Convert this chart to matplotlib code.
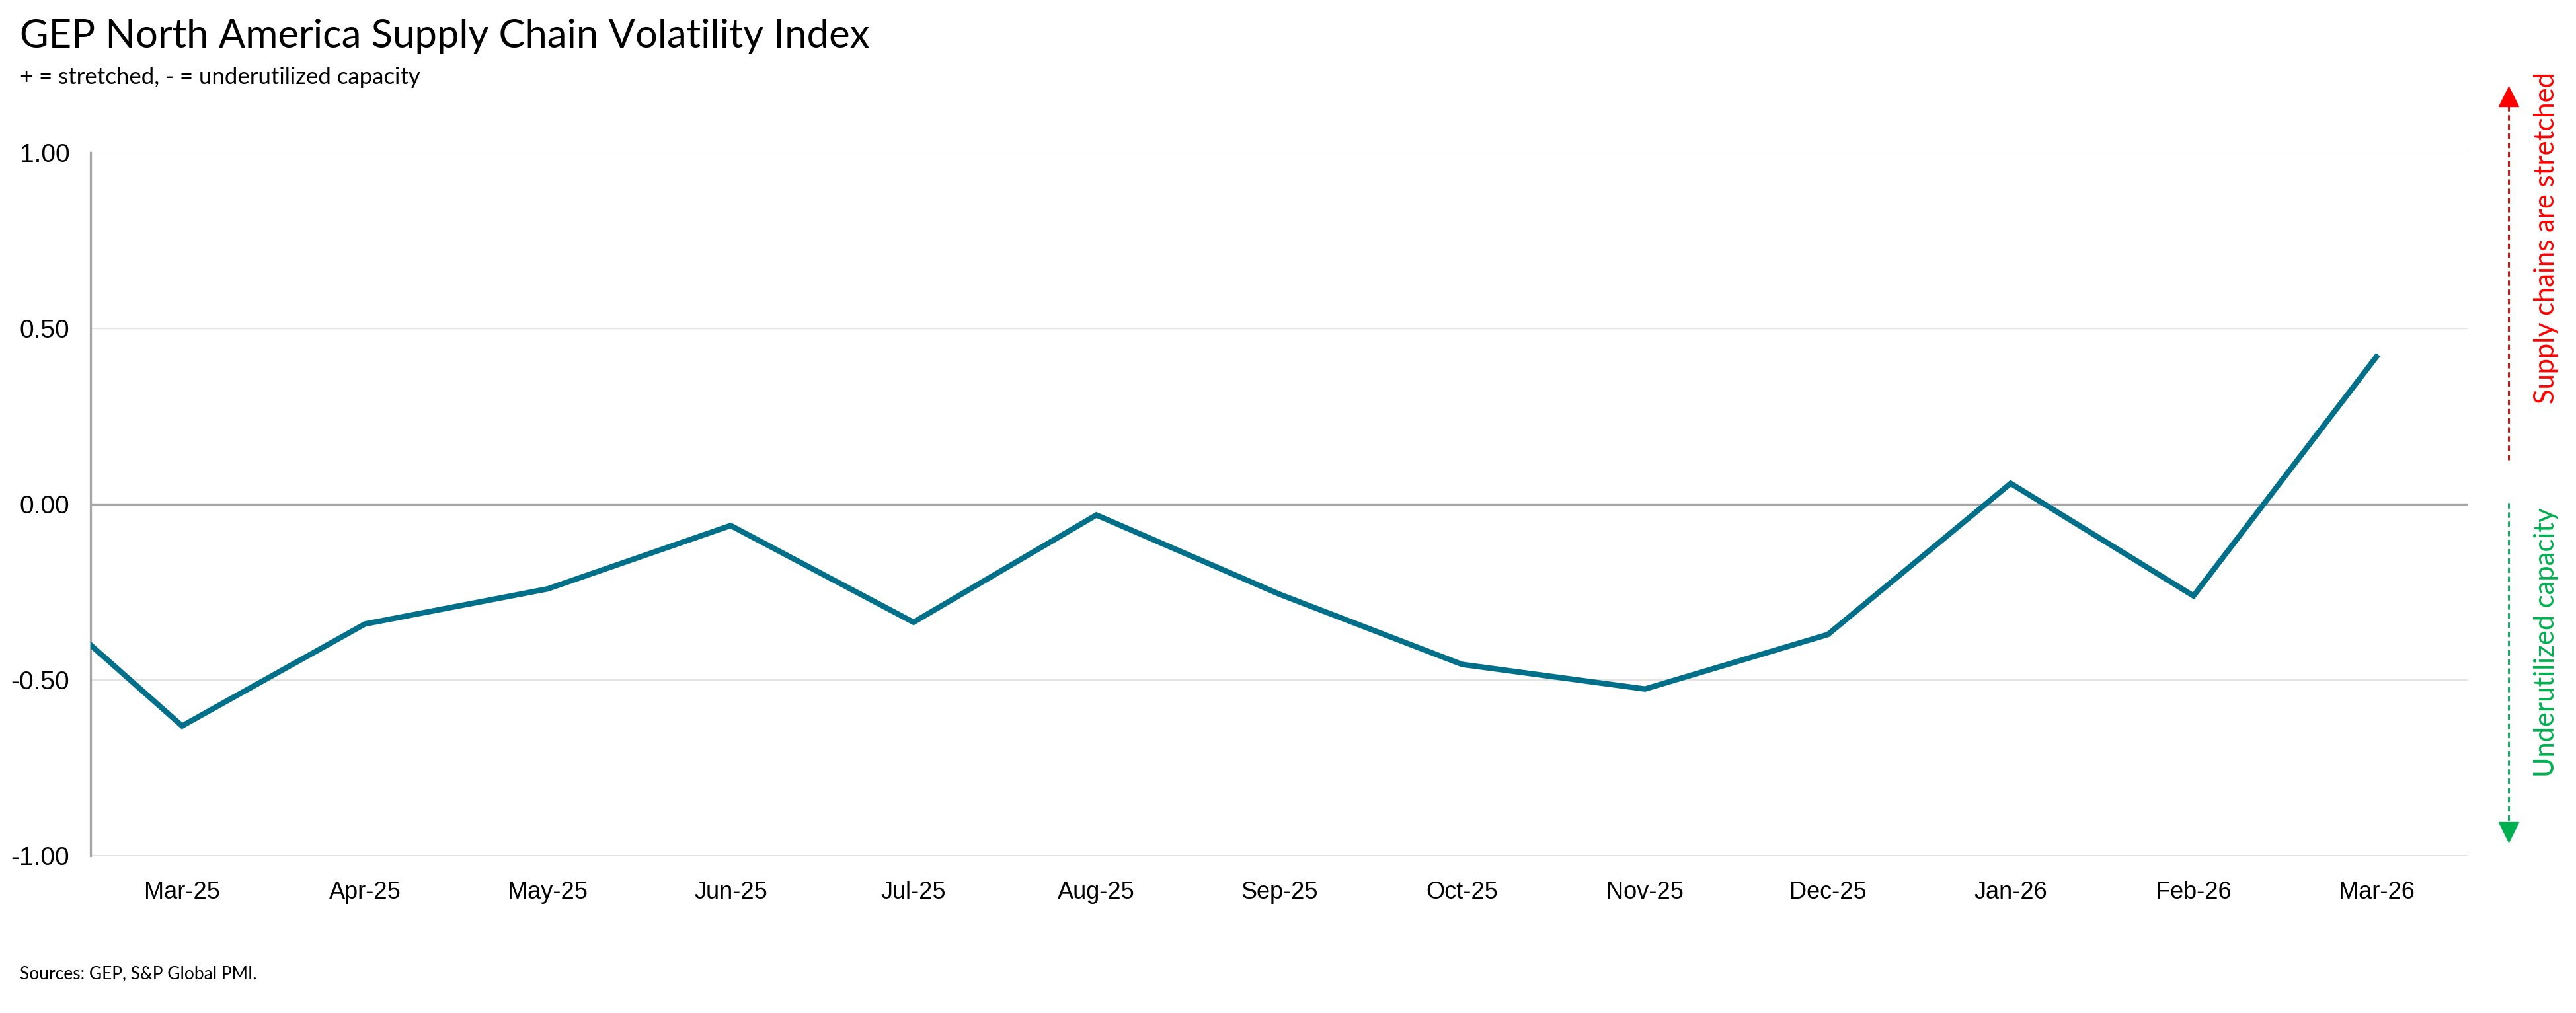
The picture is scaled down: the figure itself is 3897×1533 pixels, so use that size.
import matplotlib
matplotlib.use("Agg")
import matplotlib.pyplot as plt

# GEP North America Supply Chain Volatility Index, monthly
# (first point is Feb-25, sitting just off the left edge of the plot)
months = ["Feb-25", "Mar-25", "Apr-25", "May-25", "Jun-25", "Jul-25", "Aug-25",
          "Sep-25", "Oct-25", "Nov-25", "Dec-25", "Jan-26", "Feb-26", "Mar-26"]
index_values = [-0.17, -0.63, -0.34, -0.24, -0.06, -0.335, -0.03,
                -0.255, -0.455, -0.525, -0.37, 0.06, -0.26, 0.42]
y_ticks = [-1.0, -0.5, 0.0, 0.5, 1.0]

LINE_COLOR = "#006F8A"
RED = "#FF0000"
GREEN = "#00B050"
TEXT_FONT = ["Lato", "DejaVu Sans"]
TICK_FONT = ["Liberation Sans", "DejaVu Sans"]

fig = plt.figure(figsize=(38.97, 15.33), dpi=100)
ax = fig.add_axes([0.0352, 0.155, 0.9228, 0.694])

x = list(range(-1, len(months) - 1))
ax.plot(x, index_values, color=LINE_COLOR, lw=6, solid_joinstyle="miter",
        clip_on=True, zorder=3)

ax.set_xlim(-0.5, len(months) - 1.5)
ax.set_ylim(-1.0, 1.0)
ax.set_yticks(y_ticks)
ax.set_yticklabels([f"{v:.2f}" for v in y_ticks], fontfamily=TICK_FONT, fontsize=28)
ax.set_xticks(x[1:])
ax.set_xticklabels(months[1:], fontfamily=TICK_FONT, fontsize=26)
ax.tick_params(axis="both", length=0)
ax.tick_params(axis="y", pad=23)
ax.tick_params(axis="x", pad=27)

for v in y_ticks:
    if v == 0:
        ax.axhline(v, color="#A6A6A6", lw=2.4, zorder=2)
    else:
        ax.axhline(v, color="#E3E3E3", lw=1.5, zorder=1)

for side in ["top", "right", "bottom"]:
    ax.spines[side].set_visible(False)
ax.spines["left"].set_color("#A6A6A6")
ax.spines["left"].set_linewidth(2.4)

# titles and source
fig.text(0.0077, 0.964, "GEP North America Supply Chain Volatility Index",
         fontfamily=TEXT_FONT, fontsize=43, va="center", ha="left")
fig.text(0.0077, 0.924, "+ = stretched, - = underutilized capacity",
         fontfamily=TEXT_FONT, fontsize=25, va="center", ha="left")
fig.text(0.0077, 0.0385, "Sources: GEP, S&P Global PMI.",
         fontfamily=TEXT_FONT, fontsize=19, va="center", ha="left")

# right-hand direction arrows
ov = fig.add_axes([0, 0, 1, 1])
ov.set_xlim(0, 1)
ov.set_ylim(0, 1)
ov.axis("off")
ax_x = 0.9738
ov.plot([ax_x, ax_x], [0.546, 0.905], ls=(0, (3, 2)), color="#C00000", lw=2)
ov.plot([ax_x], [0.905], marker="^", color=RED, markersize=22, ls="none")
ov.plot([ax_x, ax_x], [0.5036, 0.179], ls=(0, (3, 2)), color="#00A050", lw=2)
ov.plot([ax_x], [0.179], marker="v", color=GREEN, markersize=22, ls="none")

ov.text(0.9885, 0.765, "Supply chains are stretched", rotation=90,
        color=RED, fontfamily=TEXT_FONT, fontsize=30, ha="center", va="center")
ov.text(0.9885, 0.366, "Underutilized capacity", rotation=90,
        color=GREEN, fontfamily=TEXT_FONT, fontsize=30, ha="center", va="center")

fig.savefig("out.png", dpi=100)
